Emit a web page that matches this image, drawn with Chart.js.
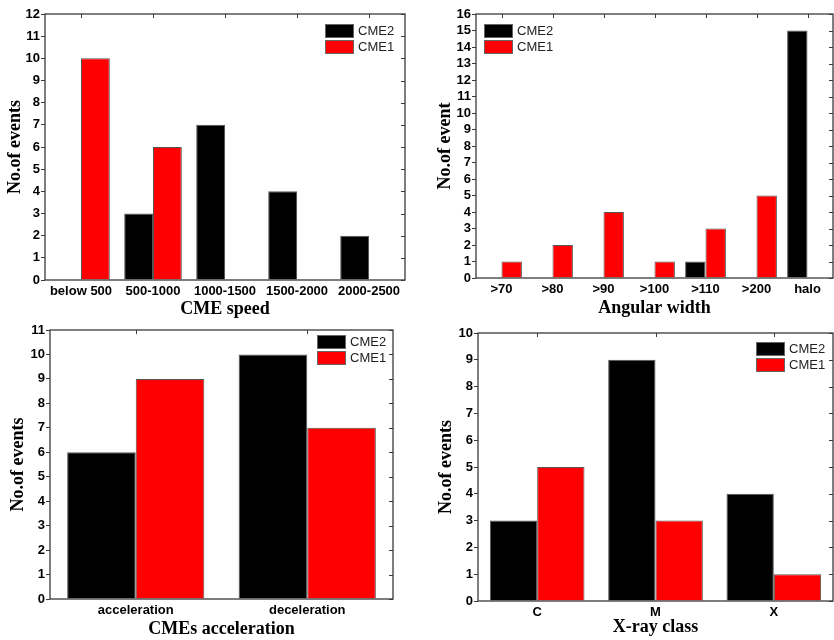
<!DOCTYPE html>
<html>
<head>
<meta charset="utf-8">
<script src="https://cdn.jsdelivr.net/npm/chart.js@4/dist/chart.umd.min.js"></script>
<style>
  html, body { margin: 0; padding: 0; background: #fff; overflow: hidden; }
  #wrap { position: relative; width: 834px; height: 640px; }
  canvas { position: absolute; }
</style>
</head>
<body>
<div id="wrap">
  <canvas id="speed" width="417" height="320" style="left:0;top:0"></canvas>
  <canvas id="width" width="417" height="320" style="left:417px;top:0"></canvas>
  <canvas id="accel" width="417" height="320" style="left:0;top:320px"></canvas>
  <canvas id="xray" width="417" height="320" style="left:417px;top:320px"></canvas>
</div>
<script>
// series names (legend order)
const seriesNames = ['CME2', 'CME1'];

// CME speed
const speedLabels = ['below 500', '500-1000', '1000-1500', '1500-2000', '2000-2500'];
const speedCme2 = [0, 3, 7, 4, 2];
const speedCme1 = [10, 6, 0, 0, 0];

// Angular width
const widthLabels = ['>70', '>80', '>90', '>100', '>110', '>200', 'halo'];
const widthCme2 = [0, 0, 0, 0, 1, 0, 15];
const widthCme1 = [1, 2, 4, 1, 3, 5, 0];

// CMEs acceleration
const accelLabels = ['acceleration', 'deceleration'];
const accelCme2 = [6, 10];
const accelCme1 = [9, 7];

// X-ray class
const xrayLabels = ['C', 'M', 'X'];
const xrayCme2 = [3, 9, 4];
const xrayCme1 = [5, 3, 1];

const SANS = '"Liberation Sans", Arial, sans-serif';
const SERIF = '"Liberation Serif", "Times New Roman", serif';
const FRAME = '#3a3a3a';

// box around the plot plus the little inward ticks on top and right
const framePlugin = {
  id: 'frame',
  afterDatasetsDraw(chart) {
    const { ctx, chartArea: a } = chart;
    const x = chart.scales.x, y = chart.scales.y;
    ctx.save();
    ctx.strokeStyle = FRAME;
    ctx.lineWidth = 1.3;
    ctx.strokeRect(a.left, a.top, a.right - a.left, a.bottom - a.top);
    ctx.lineWidth = 1;
    ctx.beginPath();
    y.ticks.forEach((t, i) => {
      const py = Math.round(y.getPixelForTick(i)) + 0.5;
      ctx.moveTo(a.right, py);
      ctx.lineTo(a.right - 4, py);
    });
    x.ticks.forEach((t, i) => {
      const px = Math.round(x.getPixelForTick(i)) + 0.5;
      ctx.moveTo(px, a.top);
      ctx.lineTo(px, a.top + 4);
    });
    ctx.stroke();
    ctx.restore();
  }
};

// legend drawn inside the plot area
const boxLegendPlugin = {
  id: 'boxLegend',
  afterDraw(chart, args, opts) {
    const { ctx, chartArea: a } = chart;
    const bx = opts.side === 'left' ? a.left + opts.dx : a.right - opts.dx;
    let by = a.top + opts.dy;
    ctx.save();
    ctx.font = '13px ' + SANS;
    ctx.textBaseline = 'middle';
    ctx.textAlign = 'left';
    chart.data.datasets.forEach(ds => {
      ctx.fillStyle = ds.backgroundColor;
      ctx.fillRect(bx, by, 29, 14);
      ctx.strokeStyle = '#666';
      ctx.lineWidth = 1;
      ctx.strokeRect(bx + 0.5, by + 0.5, 28, 13);
      ctx.fillStyle = '#222';
      ctx.fillText(ds.label, bx + 33, by + 7.5);
      by += 16;
    });
    ctx.restore();
  }
};

function makeChart(id, labels, cme2, cme1, cfg) {
  return new Chart(document.getElementById(id), {
    type: 'bar',
    data: {
      labels: labels,
      datasets: [
        { label: seriesNames[0], data: cme2, backgroundColor: '#000000', borderColor: '#555', borderWidth: 1 },
        { label: seriesNames[1], data: cme1, backgroundColor: '#ff0000', borderColor: '#555', borderWidth: 1 }
      ]
    },
    options: {
      responsive: false,
      animation: false,
      devicePixelRatio: 1,
      layout: { padding: { left: 0, right: cfg.padRight, top: cfg.padTop, bottom: 0 } },
      datasets: { bar: { categoryPercentage: 0.8, barPercentage: 1.0 } },
      plugins: {
        legend: { display: false },
        tooltip: { enabled: false },
        boxLegend: cfg.legend
      },
      scales: {
        x: {
          afterFit: (scale) => { scale.height = cfg.xHeight; },
          grid: { display: false, drawTicks: false, tickLength: 0 },
          border: { display: false },
          ticks: {
            color: '#000',
            padding: 4,
            maxRotation: 0,
            autoSkip: false,
            font: { family: SANS, size: 13, weight: 'bold' }
          },
          title: {
            display: true,
            text: cfg.xTitle,
            color: '#000',
            padding: { top: 0, bottom: cfg.xTitlePad },
            font: { family: SERIF, size: 18, weight: 'bold' }
          }
        },
        y: {
          min: 0,
          max: cfg.yMax,
          afterFit: (scale) => { scale.width = cfg.yWidth; },
          grid: { drawOnChartArea: false, drawTicks: true, tickLength: 4, color: FRAME },
          border: { display: false },
          ticks: {
            stepSize: 1,
            autoSkip: false,
            color: '#000',
            padding: 1,
            font: { family: SANS, size: 13, weight: 'bold' }
          },
          title: {
            display: true,
            text: cfg.yTitle,
            color: '#000',
            padding: { top: cfg.yTitlePad, bottom: 0 },
            font: { family: SERIF, size: 18, weight: 'bold' }
          }
        }
      }
    },
    plugins: [framePlugin, boxLegendPlugin]
  });
}

makeChart('speed', speedLabels, speedCme2, speedCme1, {
  yMax: 12, yTitle: 'No.of events', xTitle: 'CME speed',
  yWidth: 45, xHeight: 40, padTop: 14, padRight: 12, yTitlePad: 5, xTitlePad: 0,
  legend: { side: 'right', dx: 80, dy: 10 }
});

makeChart('width', widthLabels, widthCme2, widthCme1, {
  yMax: 16, yTitle: 'No.of event', xTitle: 'Angular width',
  yWidth: 59, xHeight: 42, padTop: 14, padRight: 1, yTitlePad: 18, xTitlePad: 1,
  legend: { side: 'left', dx: 8, dy: 10 }
});

makeChart('accel', accelLabels, accelCme2, accelCme1, {
  yMax: 11, yTitle: 'No.of events', xTitle: 'CMEs acceleration',
  yWidth: 50, xHeight: 41, padTop: 10, padRight: 24, yTitlePad: 8, xTitlePad: 0,
  legend: { side: 'right', dx: 76, dy: 5 }
});

makeChart('xray', xrayLabels, xrayCme2, xrayCme1, {
  yMax: 10, yTitle: 'No.of events', xTitle: 'X-ray class',
  yWidth: 61, xHeight: 39, padTop: 13, padRight: 1, yTitlePad: 19, xTitlePad: 2,
  legend: { side: 'right', dx: 77, dy: 9 }
});
</script>
</body>
</html>
